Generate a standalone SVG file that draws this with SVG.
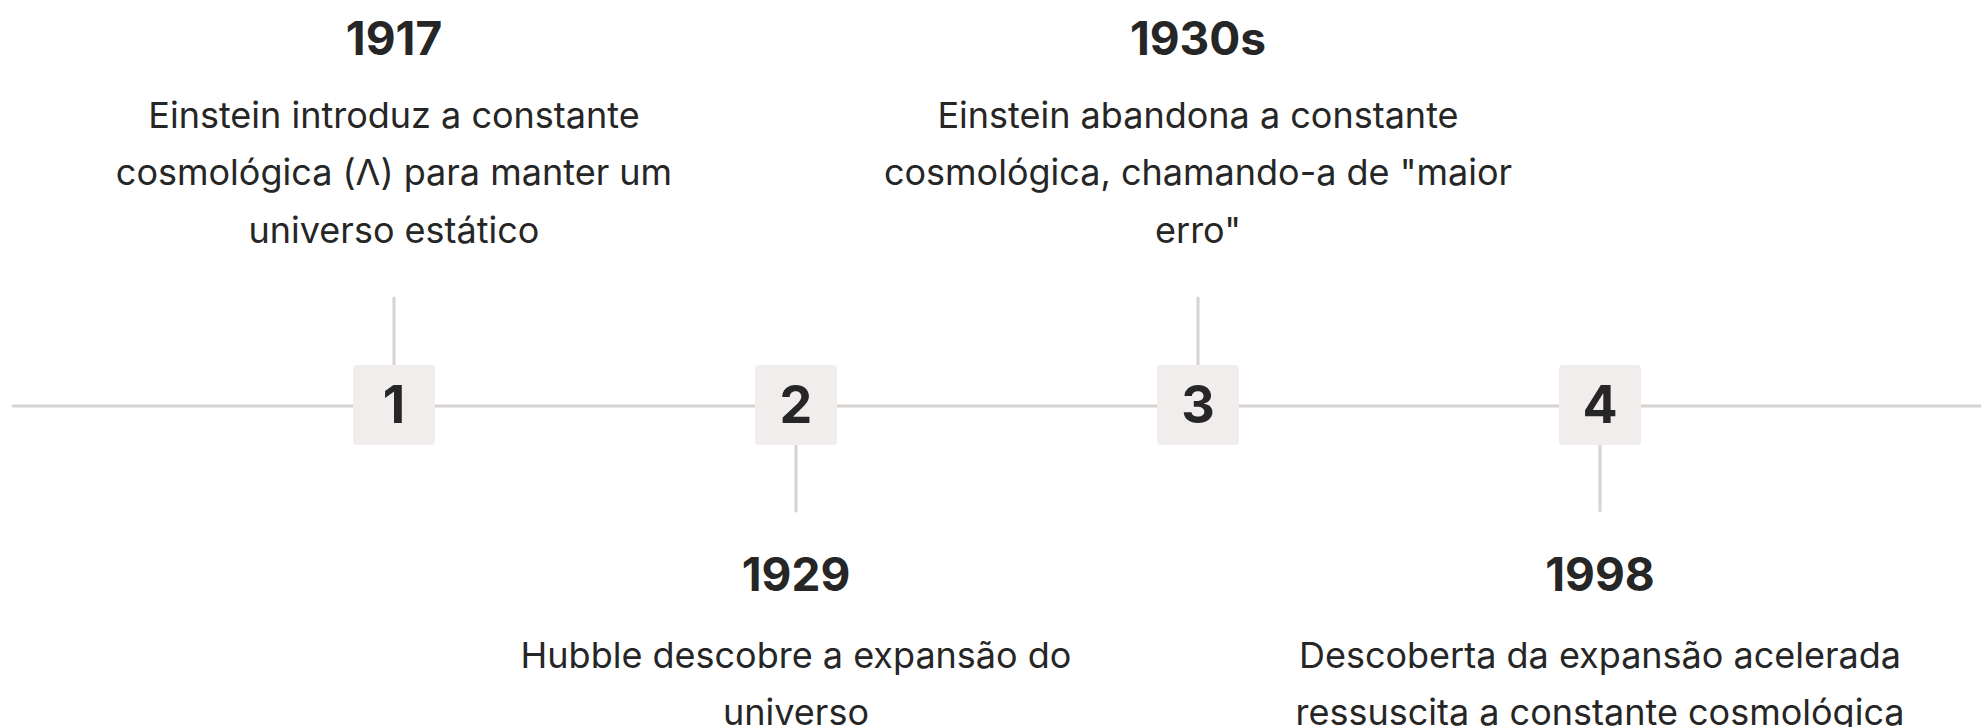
<svg xmlns="http://www.w3.org/2000/svg" width="1983" height="727" viewBox="0 0 1983 727">
<style>
.ln{stroke:#d6d3d1;stroke-width:3;stroke-linecap:round;fill:none}
.box{fill:#f0edec}
.num{font-family:Inter,"Liberation Sans",sans-serif;font-weight:700;font-size:52px;fill:#262626;text-anchor:middle}
.yr{font-family:Inter,"Liberation Sans",sans-serif;font-weight:700;font-size:46px;fill:#262626;text-anchor:middle}
.ds{font-family:Inter,"Liberation Sans",sans-serif;font-weight:400;font-size:36px;fill:#262626;text-anchor:middle}
</style>
<rect width="1983" height="727" fill="#ffffff"/>
<g id="connectors">
<line class="ln" x1="13" y1="406" x2="1980" y2="406"/>
<line class="ln" x1="394" y1="298" x2="394" y2="365"/>
<line class="ln" x1="796" y1="445" x2="796" y2="511"/>
<line class="ln" x1="1198" y1="298" x2="1198" y2="365"/>
<line class="ln" x1="1600" y1="445" x2="1600" y2="511"/>
</g>
<g id="node1">
<rect class="box" x="353" y="365" width="82" height="80" rx="4"/>
<text class="num" x="394" y="423">1</text>
<text class="yr" x="394" y="55">1917</text>
<text class="ds" x="394" y="128">Einstein introduz a constante</text>
<text class="ds" x="394" y="185">cosmológica (Λ) para manter um</text>
<text class="ds" x="394" y="243">universo estático</text>
</g>
<g id="node2">
<rect class="box" x="755" y="365" width="82" height="80" rx="4"/>
<text class="num" x="796" y="423">2</text>
<text class="yr" x="796" y="591">1929</text>
<text class="ds" x="796" y="668">Hubble descobre a expansão do</text>
<text class="ds" x="796" y="725">universo</text>
</g>
<g id="node3">
<rect class="box" x="1157" y="365" width="82" height="80" rx="4"/>
<text class="num" x="1198" y="423">3</text>
<text class="yr" x="1198" y="55">1930s</text>
<text class="ds" x="1198" y="128">Einstein abandona a constante</text>
<text class="ds" x="1198" y="185">cosmológica, chamando-a de "maior</text>
<text class="ds" x="1198" y="243">erro"</text>
</g>
<g id="node4">
<rect class="box" x="1559" y="365" width="82" height="80" rx="4"/>
<text class="num" x="1600" y="423">4</text>
<text class="yr" x="1600" y="591">1998</text>
<text class="ds" x="1600" y="668">Descoberta da expansão acelerada</text>
<text class="ds" x="1600" y="725">ressuscita a constante cosmológica</text>
</g>
</svg>
